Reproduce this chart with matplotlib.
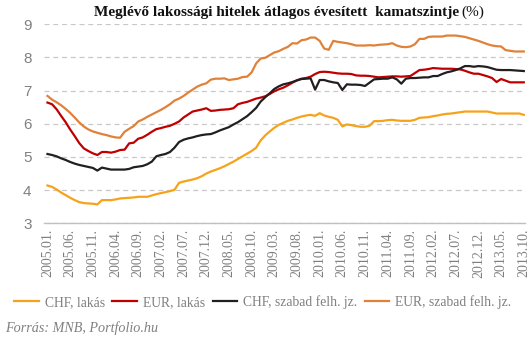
import matplotlib
matplotlib.use("Agg")
import matplotlib.pyplot as plt
import numpy as np

months = [f"{2005 + (i // 12)}.{(i % 12) + 1:02d}." for i in range(106)]

chf_lakas = [4.14, 4.10, 4.02, 3.93, 3.85, 3.77, 3.70, 3.64, 3.61, 3.60,
             3.59, 3.57, 3.70, 3.70, 3.70, 3.72, 3.75, 3.76, 3.77, 3.78,
             3.80, 3.80, 3.80, 3.84, 3.88, 3.91, 3.94, 3.97, 4.01, 4.22,
             4.26, 4.29, 4.32, 4.36, 4.42, 4.50, 4.56, 4.61, 4.66, 4.72,
             4.79, 4.86, 4.94, 5.02, 5.10, 5.18, 5.28, 5.50, 5.65, 5.77,
             5.88, 5.97, 6.03, 6.09, 6.13, 6.18, 6.22, 6.25, 6.27, 6.24,
             6.32, 6.25, 6.21, 6.18, 6.12, 5.92, 5.98, 5.96, 5.93, 5.91,
             5.91, 5.94, 6.08, 6.08, 6.09, 6.11, 6.12, 6.10, 6.09, 6.09,
             6.09, 6.12, 6.18, 6.19, 6.20, 6.23, 6.25, 6.28, 6.30, 6.31,
             6.33, 6.35, 6.37, 6.37, 6.37, 6.37, 6.37, 6.37, 6.34, 6.31,
             6.31, 6.31, 6.31, 6.31, 6.31, 6.27]

eur_lakas = [6.64, 6.59, 6.44, 6.24, 6.05, 5.83, 5.63, 5.42, 5.26, 5.18,
             5.11, 5.06, 5.15, 5.15, 5.13, 5.16, 5.21, 5.22, 5.41, 5.43,
             5.55, 5.59, 5.67, 5.76, 5.84, 5.87, 5.91, 5.94, 6.00, 6.07,
             6.19, 6.28, 6.37, 6.40, 6.43, 6.47, 6.39, 6.40, 6.42, 6.43,
             6.44, 6.47, 6.59, 6.63, 6.66, 6.71, 6.76, 6.79, 6.83, 6.90,
             6.98, 7.04, 7.09, 7.16, 7.24, 7.31, 7.36, 7.38, 7.42, 7.50,
             7.56, 7.57, 7.56, 7.54, 7.52, 7.51, 7.51, 7.50, 7.46, 7.45,
             7.45, 7.44, 7.42, 7.40, 7.41, 7.42, 7.43, 7.43, 7.42, 7.43,
             7.44, 7.53, 7.62, 7.63, 7.65, 7.68, 7.67, 7.66, 7.66, 7.66,
             7.65, 7.64, 7.60, 7.55, 7.51, 7.51, 7.47, 7.43, 7.38, 7.26,
             7.35, 7.30, 7.25, 7.25, 7.25, 7.25]

chf_szabad = [5.09, 5.06, 5.02, 4.96, 4.91, 4.85, 4.80, 4.76, 4.73, 4.70,
              4.67, 4.59, 4.68, 4.65, 4.62, 4.62, 4.62, 4.62, 4.64, 4.69,
              4.71, 4.73, 4.78, 4.86, 5.02, 5.06, 5.09, 5.15, 5.28, 5.45,
              5.52, 5.56, 5.59, 5.63, 5.66, 5.68, 5.69, 5.74, 5.80, 5.85,
              5.90, 5.98, 6.05, 6.14, 6.23, 6.35, 6.48, 6.67, 6.80, 6.92,
              7.05, 7.13, 7.19, 7.22, 7.26, 7.31, 7.35, 7.36, 7.37, 7.03,
              7.32, 7.32, 7.28, 7.25, 7.23, 7.02, 7.19, 7.18, 7.18, 7.17,
              7.14, 7.24, 7.34, 7.35, 7.36, 7.36, 7.40, 7.34, 7.21, 7.36,
              7.38, 7.38, 7.39, 7.40, 7.40, 7.44, 7.44, 7.50, 7.55, 7.58,
              7.62, 7.67, 7.74, 7.74, 7.72, 7.74, 7.73, 7.71, 7.67, 7.63,
              7.62, 7.62, 7.62, 7.61, 7.60, 7.59]

eur_szabad = [6.84, 6.73, 6.65, 6.56, 6.45, 6.33, 6.19, 6.04, 5.92, 5.83,
              5.77, 5.73, 5.69, 5.66, 5.62, 5.59, 5.58, 5.76, 5.85, 5.93,
              6.07, 6.13, 6.21, 6.28, 6.35, 6.42, 6.50, 6.59, 6.70, 6.76,
              6.84, 6.94, 7.03, 7.12, 7.18, 7.22, 7.33, 7.36, 7.36, 7.37,
              7.32, 7.34, 7.36, 7.41, 7.42, 7.55, 7.82, 7.97, 7.99, 8.07,
              8.15, 8.19, 8.26, 8.32, 8.43, 8.42, 8.52, 8.54, 8.60, 8.60,
              8.50, 8.27, 8.23, 8.50, 8.47, 8.45, 8.43, 8.40, 8.36, 8.36,
              8.36, 8.37, 8.36, 8.38, 8.39, 8.40, 8.43, 8.36, 8.32, 8.31,
              8.33, 8.40, 8.56, 8.56, 8.62, 8.63, 8.63, 8.63, 8.66, 8.66,
              8.66, 8.64, 8.62, 8.58, 8.54, 8.50, 8.45, 8.40, 8.36, 8.34,
              8.33, 8.22, 8.20, 8.18, 8.18, 8.18]

series_names = ["CHF, lakás", "EUR, lakás", "CHF, szabad felh. jz.", "EUR, szabad felh. jz."]
series_colors = ["#F7A21B", "#C00000", "#231F20", "#E0813A"]
series_values = [chf_lakas, eur_lakas, chf_szabad, eur_szabad]

serif = ["Liberation Serif", "DejaVu Serif"]
grey = "#808080"

fig = plt.figure(figsize=(5.31, 3.42), dpi=100)
ax = fig.add_axes([0.083, 0.347, 0.906, 0.582])

x = np.arange(len(months))
for name, col, vals in zip(series_names, series_colors, series_values):
    ax.plot(x, vals, color=col, lw=1.6, label=name, solid_joinstyle="round")

ax.set_ylim(3, 9)
ax.set_xlim(-0.75, 105.3)
ax.set_yticks(range(3, 10))
ax.yaxis.grid(True, color="#C8C8C8", ls=(0, (4, 3)), lw=0.9)
ax.set_axisbelow(True)
for s in ["top", "right", "left"]:
    ax.spines[s].set_visible(False)
ax.spines["bottom"].set_color("#C0C0C0")
ax.spines["bottom"].set_linewidth(1.0)
ax.tick_params(axis="both", length=0)
ax.tick_params(axis="y", pad=9, labelcolor=grey, labelsize=11)
for lab in ax.get_yticklabels():
    lab.set_fontfamily(["Liberation Sans", "DejaVu Sans"])

ticks = list(range(0, 106, 5))
ax.set_xticks(ticks)
ax.set_xticklabels([months[i] for i in ticks], rotation=90, fontsize=10,
                   color=grey, family=serif)
ax.tick_params(axis="x", pad=4)

leg = fig.legend(loc="center", bbox_to_anchor=(0.495, 0.117), ncol=4, frameon=False,
                 prop={"family": serif, "size": 9.8}, handlelength=1.8,
                 handletextpad=0.45, columnspacing=0.55, borderaxespad=0)
for t in leg.get_texts():
    t.set_color(grey)

fig.text(0.864, 0.963, "Meglévő lakossági hitelek átlagos évesített  kamatszintje",
         ha="right", va="center", fontsize=11, fontweight="bold", family=serif, color="#111111")
fig.text(0.868, 0.963, "(%)", ha="left", va="center", fontsize=11, family=serif, color="#111111")

fig.text(0.01, 0.04, "Forrás: MNB, Portfolio.hu", ha="left", va="center", fontsize=10.2,
         style="italic", family=serif, color=grey)

fig.savefig("out.png", dpi=100)
